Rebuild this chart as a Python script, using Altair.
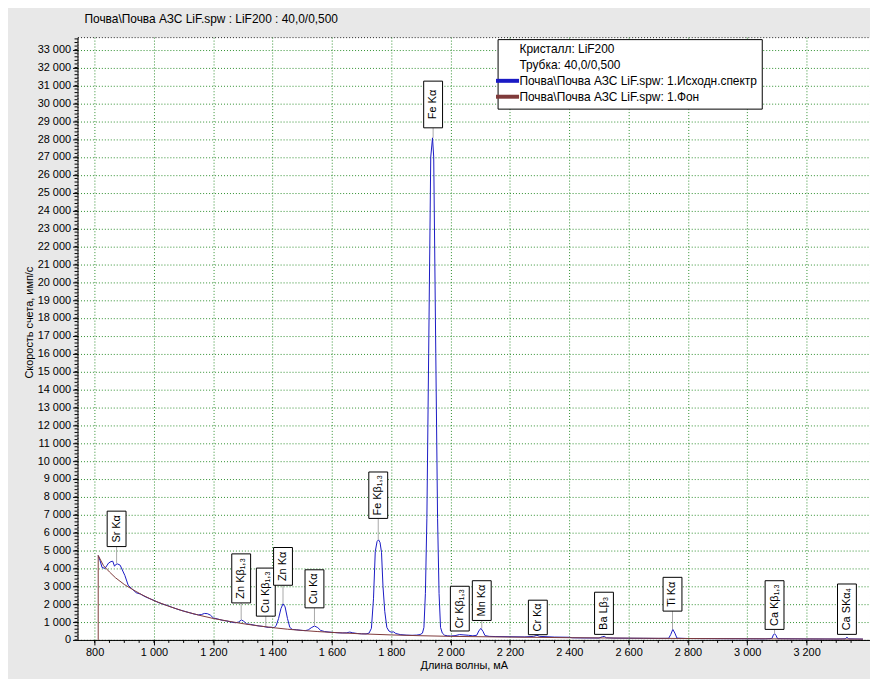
import altair as alt
import pandas as pd

FONT = "Liberation Sans"
SPEC = "Почва\\Почва АЗС LiF.spw: 1.Исходн.спектр"
BG = "Почва\\Почва АЗС LiF.spw: 1.Фон"
INFO1 = "Кристалл: LiF200"
INFO2 = "Трубка: 40,0/0,500"

# spectrum (wavelength, mA ; count rate, imp/s)
spec_x = [812, 818, 825, 835, 847, 855, 861, 867, 872, 877, 886, 895, 902, 913, 925, 940, 955, 970, 985,
          1000, 1015, 1030, 1045, 1060, 1075, 1090, 1105, 1120, 1135, 1150, 1160, 1170, 1180, 1190, 1200,
          1215, 1230, 1245, 1260, 1275, 1285, 1295, 1303, 1312, 1325, 1340, 1355, 1370, 1385, 1395, 1405,
          1412, 1420, 1428, 1435, 1442, 1450, 1458, 1466, 1480, 1495, 1510, 1520, 1530, 1541, 1552, 1562,
          1575, 1590, 1605, 1620, 1635, 1650, 1660, 1670, 1685, 1700, 1715, 1725, 1733, 1740, 1746, 1752,
          1757, 1762, 1767, 1772, 1778, 1785, 1792, 1800, 1808, 1815, 1830, 1850, 1870, 1885, 1897, 1905,
          1910, 1915, 1920, 1926, 1933, 1939, 1943, 1950, 1956, 1961, 1966, 1972, 1980, 1990, 2000,
          2015, 2030, 2045, 2060, 2075, 2088, 2095, 2102, 2109, 2116, 2130, 2150, 2200, 2250, 2280, 2291,
          2300, 2350, 2400, 2410, 2450, 2500, 2512, 2518, 2525, 2550, 2600, 2650, 2700, 2735, 2742, 2749,
          2756, 2763, 2800, 2900, 3000, 3060, 3083, 3088, 3092, 3097, 3102, 3200, 3300, 3330, 3336, 3342, 3390]
spec_y = [4720, 4450, 4050, 4000, 4300, 4380, 4400, 4120, 4230, 4250, 4180, 3850, 3600, 3060, 2870, 2640, 2560, 2420, 2310,
          2210, 2090, 2000, 1930, 1830, 1740, 1660, 1590, 1520, 1450, 1400, 1420, 1480, 1470, 1390, 1230,
          1170, 1100, 1060, 1000, 960, 1000, 1120, 1040, 900, 870, 820, 780, 750, 700, 710, 690,
          800, 1200, 1750, 2020, 1850, 1200, 700, 590, 570, 540, 520, 560, 680, 780, 690, 530,
          470, 440, 420, 400, 390, 400, 440, 400, 360, 340, 340, 380, 650, 2300, 4950, 5500,
          5600, 5450, 4900, 3000, 1600, 700, 500, 430, 450, 360, 300, 270, 260, 270, 300, 380,
          700, 2600, 6800, 16000, 27000, 28070, 27000, 16000, 6800, 2600, 700, 380, 260, 230, 220,
          240, 300, 280, 260, 230, 260, 500, 650, 480, 240, 200, 190, 180, 170, 200, 260,
          200, 160, 150, 120, 110, 105, 180, 200, 120, 100, 95, 90, 85, 90, 300, 590,
          380, 100, 80, 72, 66, 60, 80, 280, 350, 250, 70, 55, 50, 60, 150, 60, 45]

# background
bg_x = [812, 812, 830, 850, 870, 900, 930, 960, 1000, 1050, 1100, 1150, 1200, 1250, 1300, 1350, 1400,
        1450, 1500, 1550, 1600, 1700, 1800, 1900, 2000, 2200, 2400, 2600, 2800, 3000, 3200, 3390]
bg_y = [0, 4720, 4150, 3800, 3480, 3100, 2800, 2520, 2200, 1880, 1610, 1390, 1200, 1050, 910, 790, 690,
        600, 530, 470, 420, 340, 280, 235, 200, 160, 125, 100, 80, 65, 55, 45]

# line labels
lab_text = ["Sr Kα", "Zn Kβ₁,₃", "Cu Kβ₁,₃", "Zn Kα", "Cu Kα", "Fe Kβ₁,₃", "Fe Kα", "Cr Kβ₁,₃",
            "Mn Kα", "Cr Kα", "Ba Lβ₃", "Ti Kα", "Ca Kβ₁,₃", "Ca SKα₄"]
lab_x = [874, 1294, 1377, 1435, 1541, 1756, 1941, 2031, 2105, 2294, 2517, 2748, 3092, 3336]
lab_tip = [4300, 1144, 778, 2020, 778, 5600, 28070, 500, 650, 294, 311, 590, 350, 311]
lab_bottom = [5220, 2070, 1330, 3056, 1794, 6794, 28630, 500, 1089, 294, 311, 1611, 589, 311]
lab_top = [7200, 4811, 4017, 5167, 3922, 9389, 31240, 3000, 3311, 2222, 2667, 3500, 3311, 3128]

x_ticks = list(range(800, 3201, 200))
y_ticks = list(range(0, 33001, 1000))
x_minor = list(range(800, 3397, 50))
y_minor = list(range(0, 33601, 200))

W, H = 798, 607
XDOM = [759, 3397]
YDOM = [0, 33700]

spec_df = pd.DataFrame({"x": spec_x, "y": spec_y, "s": SPEC, "i": range(len(spec_x))})
bg_df = pd.DataFrame({"x": bg_x, "y": bg_y, "s": BG, "i": range(len(bg_x))})
lab_df = pd.DataFrame({"t": lab_text, "x": lab_x, "tip": lab_tip, "b": lab_bottom, "top": lab_top})
lab_df["mid"] = (lab_df["b"] + lab_df["top"]) / 2

xs = alt.Scale(domain=XDOM, nice=False, zero=False)
ys = alt.Scale(domain=YDOM, nice=False)
cs = alt.Scale(domain=[INFO1, INFO2, SPEC, BG],
               range=["rgba(0,0,0,0)", "rgba(0,0,0,0)", "#1a1ac4", "#7f3a3a"])

xaxis = alt.Axis(values=x_ticks, title="Длина волны, мА",
                 labelExpr="replace(format(datum.value, ','), ',', ' ')",
                 labelOverlap=False, labelFlush=False,
                 grid=True, gridColor="#2f8f2f", gridDash=[1, 2], gridWidth=1,
                 domainColor="black", tickColor="black", tickSize=5, labelPadding=2,
                 titlePadding=2, titleX=389)
yaxis = alt.Axis(values=y_ticks, title="Скорость счета, имп/с",
                 labelExpr="replace(format(datum.value, ','), ',', ' ')",
                 labelOverlap=False, labelFlush=False,
                 grid=True, gridColor="#2f8f2f", gridDash=[1, 2], gridWidth=1,
                 domainColor="black", tickColor="black", tickSize=5, labelPadding=2,
                 titlePadding=3, titleY=287)

X = alt.X("x:Q", scale=xs, axis=xaxis)


def Y(f):
    return alt.Y(f, scale=ys, axis=yaxis)


legend = alt.Legend(title=None,
                    orient="none", legendX=423, legendY=2,
                    symbolType="M-2.9,0H2.9", symbolSize=64, symbolStrokeWidth=4,
                    labelOffset=6, labelLimit=500, rowPadding=0,
                    fillColor="white", strokeColor="black", padding=4,
                    labelFontSize=12, labelFont=FONT, labelColor="black")

spec_line = alt.Chart(spec_df).mark_line(strokeWidth=1, clip=True).encode(
    x=X, y=Y("y:Q"),
    color=alt.Color("s:N", scale=cs, legend=legend),
    order="i:Q",
)
bg_line = alt.Chart(bg_df).mark_line(strokeWidth=1, clip=True).encode(
    x=X, y=Y("y:Q"), color=alt.Color("s:N", scale=cs, legend=legend), order="i:Q",
)

pointers = alt.Chart(lab_df).mark_rule(color="#a8a8a8", strokeWidth=1).encode(
    x=X, y=Y("tip:Q"), y2="b:Q")
boxes = alt.Chart(lab_df).mark_bar(width=19, fill="white", stroke="black", strokeWidth=1).encode(
    x=X, y=Y("b:Q"), y2="top:Q")
texts = alt.Chart(lab_df).mark_text(angle=270, fontSize=11, font=FONT, color="black",
                                    align="center", baseline="middle").encode(
    x=X, y=Y("mid:Q"), text="t:N")

xmin_df = pd.DataFrame({"x": x_minor})
ymin_df = pd.DataFrame({"y": y_minor})
xminor = alt.Chart(xmin_df).mark_rule(color="black", strokeWidth=1).encode(
    x=X, y=alt.value(H), y2=alt.value(H + 3))
yminor = alt.Chart(ymin_df).mark_rule(color="black", strokeWidth=1).encode(
    y=Y("y:Q"), x=alt.value(0), x2=alt.value(-3))

chart = alt.layer(spec_line, bg_line, pointers, boxes, texts, xminor, yminor).properties(
    width=W, height=H,
    autosize=alt.AutoSizeParams(type="none"),
    padding={"left": 70, "top": 27, "right": 0, "bottom": 37},
    background="#e8e8e8",
    title=alt.TitleParams(text="Почва\\Почва АЗС LiF.spw : LiF200 : 40,0/0,500",
                          anchor="start", frame="group", fontSize=12, fontWeight="normal",
                          font=FONT, color="black", offset=11, dx=7),
).configure_view(
    fill="white", stroke="#222222", strokeDash=[1, 2], strokeWidth=1,
).configure_axis(
    labelFont=FONT, titleFont=FONT, labelFontSize=11, titleFontSize=11,
    labelColor="black", titleColor="black", titleFontWeight="normal",
)

chart.save("out.html", embed_options={"renderer": "svg", "actions": False})
